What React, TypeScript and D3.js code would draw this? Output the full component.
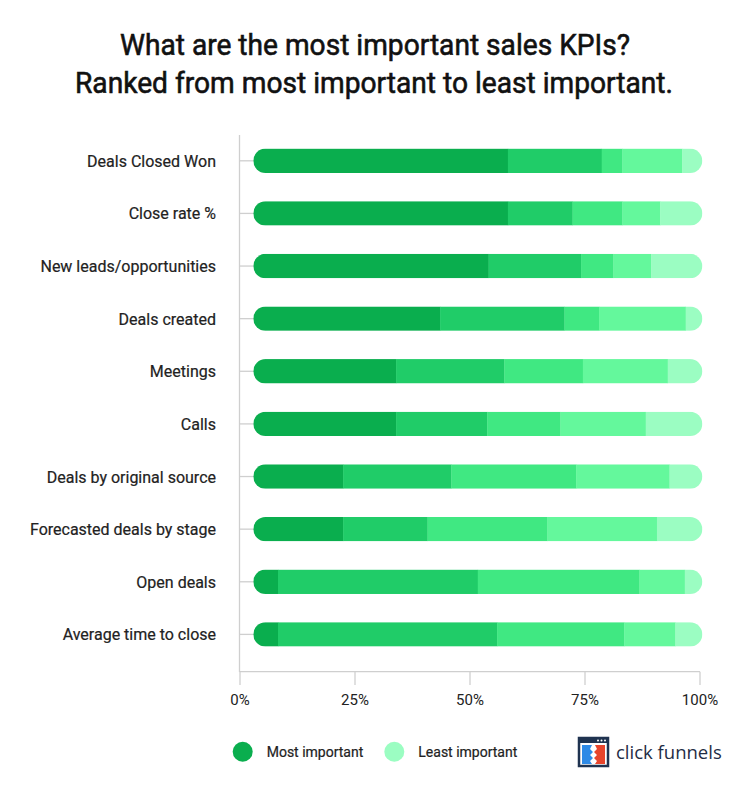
import React from "react";
import * as d3 from "d3";

const categories = [
  "Deals Closed Won",
  "Close rate %",
  "New leads/opportunities",
  "Deals created",
  "Meetings",
  "Calls",
  "Deals by original source",
  "Forecasted deals by stage",
  "Open deals",
  "Average time to close",
];

// share of respondents per rank (most important -> least important), %
const rank1 = [56.7, 56.7, 52.4, 41.6, 31.8, 31.8, 20.0, 20.0, 5.5, 5.5];
const rank2 = [20.9, 14.4, 20.6, 27.7, 24.1, 20.3, 24.1, 18.8, 44.5, 48.8];
const rank3 = [4.6, 11.1, 7.2, 7.7, 17.5, 16.3, 27.8, 26.7, 36.0, 28.3];
const rank4 = [13.3, 8.4, 8.4, 19.3, 18.9, 19.0, 20.8, 24.4, 10.1, 11.4];
const rank5 = [4.5, 9.4, 11.4, 3.7, 7.7, 12.6, 7.3, 10.1, 3.9, 6.0];

const tickValues = [0, 25, 50, 75, 100];
const tickLabels = ["0%", "25%", "50%", "75%", "100%"];
const legendLabels = ["Most important", "Least important"];

const colors = ["#0aae4e", "#20cc68", "#40e882", "#64f89c", "#9bfdc2"];

export default function App() {
  const W = 750;
  const H = 793;
  const series = [rank1, rank2, rank3, rank4, rank5];

  const axisX = d3.scaleLinear().domain([0, 100]).range([240, 700]);
  const barX = d3.scaleLinear().domain([0, 100]).range([253.3, 702.3]);
  const yc = d3.scalePoint<string>().domain(categories).range([160.8, 634.4]);
  const bh = 24.4;

  const rows = categories.map((c) => {
    const i = categories.indexOf(c);
    let acc = 0;
    const segs = series.map((s, k) => {
      const x0 = acc;
      acc += s[i];
      return { x0, x1: acc, k };
    });
    return { c, segs, total: acc };
  });

  const font = "Roboto, 'Noto Sans', sans-serif";

  return (
    <svg
      width={W}
      height={H}
      viewBox={`0 0 ${W} ${H}`}
      style={{ position: "absolute", left: 0, top: 0, background: "#fff" }}
    >
      <defs>
        {rows.map((r, i) => (
          <clipPath id={`clip${i}`} key={i}>
            <rect
              x={barX(0)}
              y={yc(r.c)! - bh / 2}
              width={barX(100) - barX(0)}
              height={bh}
              rx={bh / 2}
              ry={bh / 2}
            />
          </clipPath>
        ))}
      </defs>
      <rect x={0} y={0} width={W} height={H} fill="#fff" />

      {/* title */}
      <text
        x={375}
        y={55}
        textAnchor="middle"
        fontFamily={font}
        fontSize={30}
        fill="#111"
        stroke="#111"
        strokeWidth={0.6}
        textLength={510}
        lengthAdjust="spacingAndGlyphs"
      >
        What are the most important sales KPIs?
      </text>
      <text
        x={374}
        y={92.7}
        textAnchor="middle"
        fontFamily={font}
        fontSize={30}
        fill="#111"
        stroke="#111"
        strokeWidth={0.6}
        textLength={598}
        lengthAdjust="spacingAndGlyphs"
      >
        Ranked from most important to least important.
      </text>

      {/* axes */}
      <line x1={239.5} x2={239.5} y1={135} y2={672} stroke="#cfcfcf" strokeWidth={1.3} />
      <line x1={239.5} x2={700} y1={671.7} y2={671.7} stroke="#cfcfcf" strokeWidth={1.3} />
      {tickValues.map((t, i) => (
        <g key={t}>
          <line
            x1={axisX(t)}
            x2={axisX(t)}
            y1={671.7}
            y2={685}
            stroke="#cfcfcf"
            strokeWidth={1.3}
          />
          <text
            x={axisX(t)}
            y={704.5}
            textAnchor="middle"
            fontFamily={font}
            fontSize={15}
            fill="#222"
          >
            {tickLabels[i]}
          </text>
        </g>
      ))}

      {/* bars */}
      {rows.map((r, i) => {
        const cy = yc(r.c)!;
        return (
          <g key={r.c}>
            <line x1={239.5} x2={barX(0) + 2} y1={cy} y2={cy} stroke="#cfcfcf" strokeWidth={1.3} />
            <text
              x={216}
              y={cy + 6}
              textAnchor="end"
              fontFamily={font}
              fontSize={16}
              fill="#222"
              stroke="#222"
              strokeWidth={0.2}
            >
              {r.c}
            </text>
            <g clipPath={`url(#clip${i})`}>
              {r.segs.map((s) => (
                <rect
                  key={s.k}
                  x={barX((s.x0 / r.total) * 100)}
                  y={cy - bh / 2}
                  width={barX((s.x1 / r.total) * 100) - barX((s.x0 / r.total) * 100) + 0.3}
                  height={bh}
                  fill={colors[s.k]}
                />
              ))}
            </g>
          </g>
        );
      })}

      {/* legend */}
      <circle cx={242.7} cy={751.7} r={10} fill={colors[0]} />
      <text x={266.7} y={756.8} fontFamily={font} fontSize={14} fill="#222" stroke="#222" strokeWidth={0.2}>
        {legendLabels[0]}
      </text>
      <circle cx={394.3} cy={751.7} r={10} fill={colors[4]} />
      <text x={418.3} y={756.8} fontFamily={font} fontSize={14} fill="#222" stroke="#222" strokeWidth={0.2}>
        {legendLabels[1]}
      </text>

      {/* logo */}
      <g>
        <rect x={579} y={738} width={29} height={28} fill="#fff" stroke="#1f3350" strokeWidth={2.5} />
        <rect x={579} y={738} width={29} height={5} fill="#1f3350" />
        <circle cx={598} cy={740.5} r={1} fill="#fff" />
        <circle cx={601.5} cy={740.5} r={1} fill="#fff" />
        <circle cx={605} cy={740.5} r={1} fill="#fff" />
        <path
          d="M582,745 L592,745 L590,749 L593,752 L590,755 L593,758 L590,761 L592,764 L582,764 Z"
          fill="#2e8ae6"
        />
        <path
          d="M605,745 L595,745 L597,749 L594,752 L597,755 L594,758 L597,761 L595,764 L605,764 Z"
          fill="#e8452c"
        />
        <text x={616} y={758.5} fontFamily="'Open Sans', Lato, sans-serif" fontSize={18.5} fill="#1f2d45">
          click funnels
        </text>
      </g>
    </svg>
  );
}
